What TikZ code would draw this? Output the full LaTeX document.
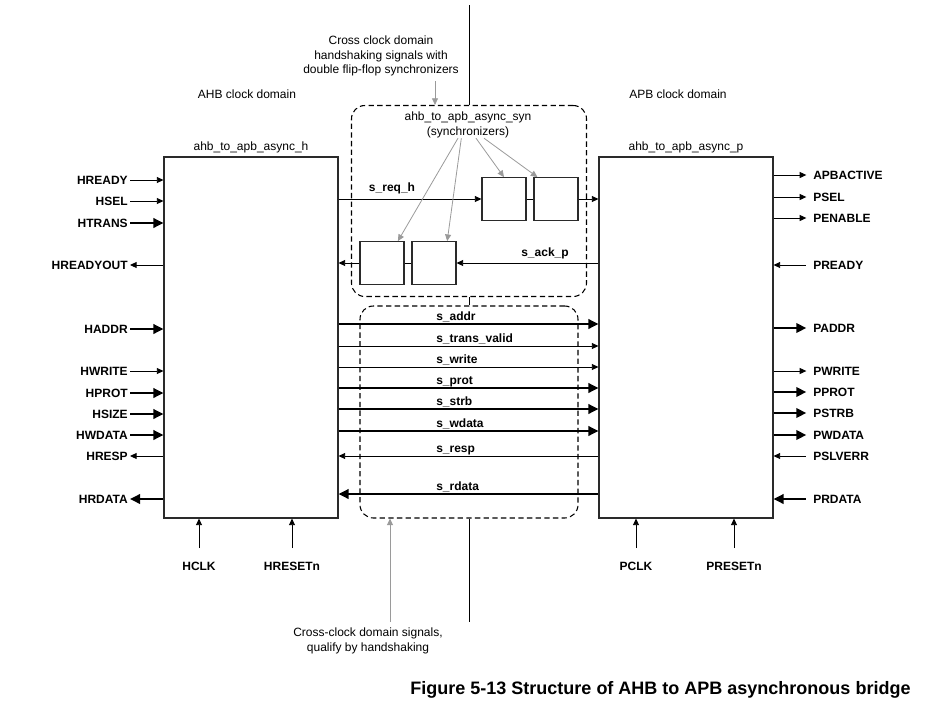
\documentclass[tikz,border=0pt]{standalone}
\usepackage{fontspec}
\setmainfont{Liberation Sans}
\usepackage{xcolor}
\usepackage{tikz}
\usetikzlibrary{arrows.meta}

\definecolor{dgray}{HTML}{2A2A2A}
\definecolor{lgray}{HTML}{9A9A9A}

\begin{document}
\begin{tikzpicture}[x=0.75pt,y=-0.75pt,
    every node/.style={inner sep=0pt},
    txt/.style={font=\fontsize{9}{11}\selectfont},
    lbl/.style={font=\fontsize{9}{11}\selectfont\bfseries},
    blk/.style={draw=dgray,line width=0.8pt,minimum width=130.5pt,minimum height=270.75pt},
    ff/.style={draw=dgray,line width=0.8pt,minimum width=33pt,minimum height=32pt},
    grp/.style={draw=black,line width=0.8pt,dash pattern=on 4pt off 2.5pt,rounded corners=10pt},
    plain/.style={line width=0.7pt},
    sigf/.style={line width=0.7pt,-{Triangle[length=5pt,width=4.5pt]}},
    sigb/.style={line width=0.7pt,{Triangle[length=5pt,width=4.5pt]}-},
    busf/.style={line width=1.8pt,-{Triangle[length=7.5pt,width=7pt]}},
    busb/.style={line width=1.8pt,{Triangle[length=7.5pt,width=7pt]}-},
    gar/.style={draw=lgray,line width=0.6pt,-{Triangle[length=5pt,width=4.5pt]}}]
    \useasboundingbox (0,0) rectangle (947,704);

    \node[grp,minimum width=176.25pt,minimum height=143.25pt] (syn) at (469,201) {};
    \node[grp,minimum width=163.5pt,minimum height=159pt] (lo) at (469,412) {};

    \node[blk] (h) at (251,337.5) {};
    \node[blk] (p) at (686,337.5) {};
    \node[txt] (ht) at (251,147) {ahb\_to\_apb\_async\_h};
    \node[txt] (pt) at (686,147) {ahb\_to\_apb\_async\_p};
    \node[txt] (hd) at (247,94) {AHB clock domain};
    \node[txt] (pd) at (678,94) {APB clock domain};

    \node[txt,align=center] (na) at (381,56) {Cross clock domain\\handshaking signals with\\double flip-flop synchronizers};
    \node[txt,align=center] (nb) at (368,641) {Cross-clock domain signals,\\qualify by handshaking};
    \node[txt,align=center] (synt) at (468,125) {ahb\_to\_apb\_async\_syn\\(synchronizers)};

    \coordinate (tp) at (469,5);
    \coordinate (bt) at (469,622);
    \coordinate (ga) at (435,81);
    \coordinate (gb) at (390,622);
    \draw[plain] (tp) -- (tp |- syn.north);
    \draw[plain] (syn.south) -- (lo.north);
    \draw[plain] (lo.south) -- (bt);
    \draw[gar] (ga) -- (ga |- syn.north);
    \draw[gar] (gb) -- (gb |- lo.south);

    \node[ff] (f1) at (504,199) {};
    \node[ff] (f2) at (556,199) {};
    \node[ff] (f3) at (382,263) {};
    \node[ff] (f4) at (434,263) {};
    \node[lbl] (rq) at (392,188) {s\_req\_h};
    \node[lbl] (ak) at (545,253) {s\_ack\_p};
    \draw[sigf] (h.east |- f1.west) -- (f1.west);
    \draw[plain] (f1) -- (f2);
    \draw[sigf] (f2.east) -- (f2.east -| p.west);
    \draw[sigf] (p.west |- f4.east) -- (f4.east);
    \draw[plain] (f4) -- (f3);
    \draw[sigf] (f3.west) -- (f3.west -| h.east);
    \draw[gar] ([xshift=-7.5pt]synt.south) -- ([xshift=-5pt]f3.north east);
    \draw[gar] ([xshift=-5pt]synt.south) -- ([xshift=-7pt]f4.north east);
    \draw[gar] ([xshift=6pt]synt.south) -- (f1.north);
    \draw[gar] ([xshift=12pt]synt.south) -- ([xshift=3pt]f2.north west);

    \foreach \y/\t/\n/\s in {324/s\_addr/addr/busf, 346/s\_trans\_valid/tv/sigf, 367/s\_write/wr/sigf, 388/s\_prot/prot/busf, 409/s\_strb/strb/busf, 431/s\_wdata/wd/busf, 456/s\_resp/resp/sigb, 494/s\_rdata/rd/busb}{
        \node[lbl,anchor=base west] (\n) at (436,\y-4) {\t};
        \draw[\s] (h.east |- 0,\y) -- (p.west |- 0,\y);
    }

    \foreach \y/\t/\s in {180/HREADY/sigf, 201/HSEL/sigf, 223/HTRANS/busf, 265/HREADYOUT/sigb, 329/HADDR/busf, 371/HWRITE/sigf, 393/HPROT/busf, 414/HSIZE/busf, 435/HWDATA/busf, 456/HRESP/sigb, 499/HRDATA/busb}{
        \node[lbl,anchor=east] (\t) at (128,\y) {\t};
        \draw[\s] ([xshift=1.5pt]\t.east) -- (\t.east -| h.west);
    }

    \foreach \y/\t/\s in {175/APBACTIVE/sigf, 197/PSEL/sigf, 218/PENABLE/sigf, 265/PREADY/sigb, 328/PADDR/busf, 371/PWRITE/sigf, 392/PPROT/busf, 413/PSTRB/busf, 435/PWDATA/busf, 456/PSLVERR/sigb, 499/PRDATA/busb}{
        \node[lbl,anchor=west] (\t) at (813,\y) {\t};
        \draw[\s] (\t.west -| p.east) -- ([xshift=-5pt]\t.west);
    }

    \foreach \x/\t/\b in {199/HCLK/h, 292/HRESETn/h, 636/PCLK/p, 734/PRESETn/p}{
        \node[lbl] (\t) at (\x,566) {\t};
        \draw[sigf] ([yshift=10pt]\t.north) -- (\t.north |- \b.south);
    }

    \node[font=\fontsize{13.5}{16}\selectfont\bfseries] (cap) at (660.5,690) {Figure 5-13 Structure of AHB to APB asynchronous bridge};
\end{tikzpicture}
\end{document}
